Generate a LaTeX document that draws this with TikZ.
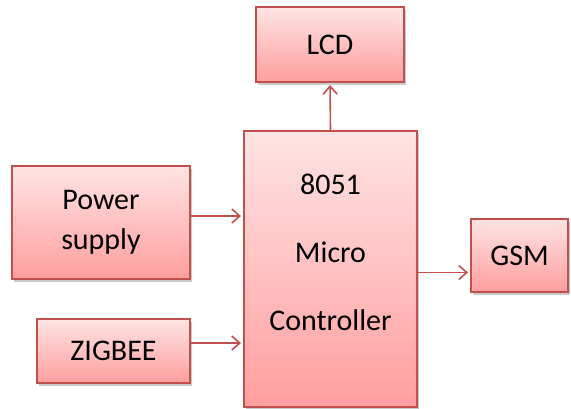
\documentclass[tikz,border=0pt]{standalone}
\usepackage{fontspec}
\setmainfont{Carlito}
\usepackage{tikz}
\usetikzlibrary{arrows.meta, positioning, calc, shadows}
\definecolor{cBorder}{RGB}{192,80,77}
\definecolor{cTop}{RGB}{255,228,228}
\definecolor{cBottom}{RGB}{255,158,158}
\tikzset{
	blk/.style ={rectangle, draw=cBorder, line width=1pt, top color=cTop, bottom color=cBottom, align=center, inner sep=2pt,
		drop shadow={shadow xshift=1.2pt, shadow yshift=-1.5pt, opacity=0.35, fill=black!60},
		font=\fontsize{15}{20}\selectfont},
	sig/.style ={-{Straight Barb[length=4pt, width=7pt]}, cBorder, line width=0.8pt, shorten >=1pt},
}
\begin{document}
\begin{tikzpicture}[x=0.5pt, y=-0.5pt]
	\useasboundingbox (0,0) rectangle (571,408);
	% blocks
	\node[blk, minimum width=74pt, minimum height=37.5pt] (lcd) at (330,44.5) {LCD};
	\node[blk, minimum width=86.5pt, minimum height=138pt] (mc) at (330.5,269) {};
	\node[font=\fontsize{15}{34}\selectfont, align=center] (mctxt) at ([yshift=8.5pt]mc.center) {8051\\Micro\\Controller};
	\node[blk, minimum width=89pt, minimum height=56.5pt] (power) at (101,222.5) {Power\\supply};
	\node[blk, minimum width=76.5pt, minimum height=32pt] (zigbee) at (113.5,351) {ZIGBEE};
	\node[blk, minimum width=48.5pt, minimum height=36.5pt] (gsm) at (519.5,255.5) {GSM};
	% signals
	\draw[sig] (mc.north) -- (lcd.south);
	\draw[sig] ([yshift=3.25pt]power.east) -- ([yshift=3.25pt]power.east -| mc.west);
	\draw[sig] ([yshift=4pt]zigbee.east) -- ([yshift=4pt]zigbee.east -| mc.west);
	\draw[sig] ([yshift=-1.75pt]mc.east) -- ([yshift=-1.75pt]mc.east -| gsm.west);
\end{tikzpicture}
\end{document}
